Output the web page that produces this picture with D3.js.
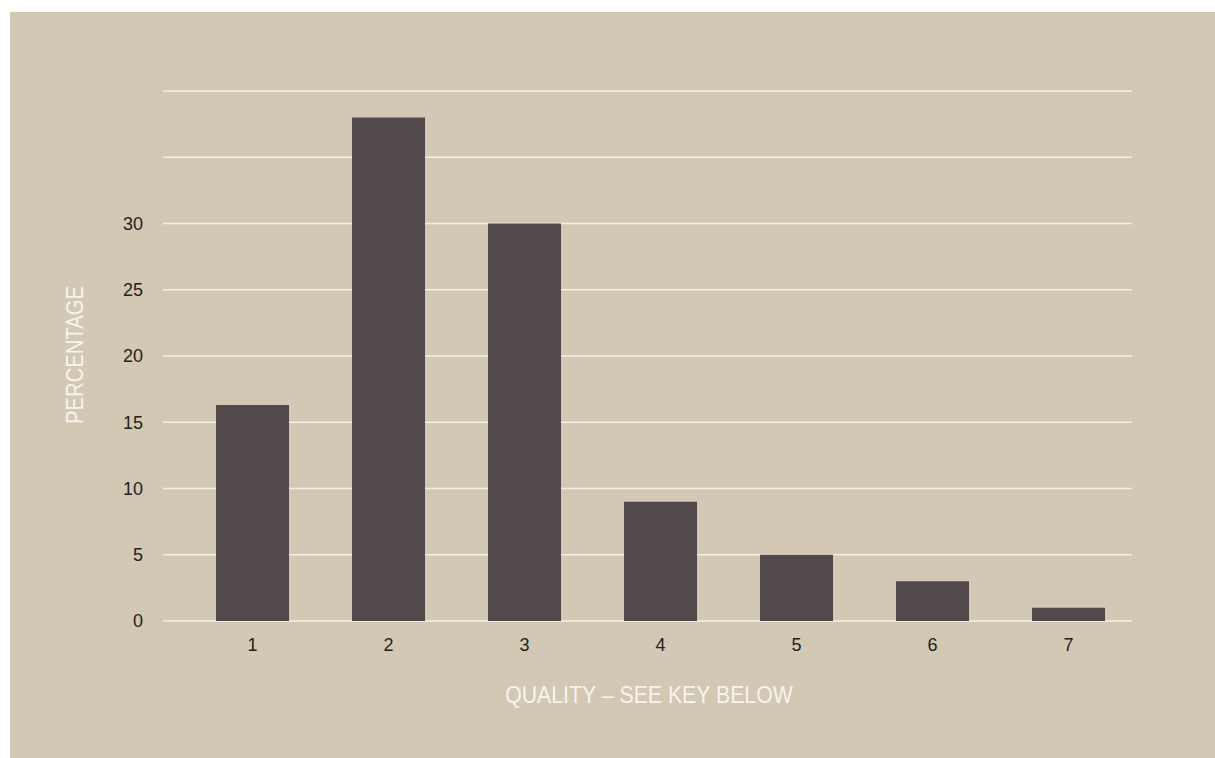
<!DOCTYPE html>
<html>
<head>
<meta charset="utf-8">
<script src="https://cdn.jsdelivr.net/npm/d3@7"></script>
<style>
  body { margin: 0; background: #ffffff; }
  svg { display: block; }
</style>
</head>
<body>
<svg id="chart" width="1215" height="758"></svg>
<script>
// data
const categories = ["1", "2", "3", "4", "5", "6", "7"];
const percentages = [16.3, 38, 30, 9, 5, 3, 1];
const grid_values = [0, 5, 10, 15, 20, 25, 30, 35, 40];
const tick_labels = [0, 5, 10, 15, 20, 25, 30];
const x_title = "QUALITY – SEE KEY BELOW";
const y_title = "PERCENTAGE";

const svg = d3.select("#chart");
const title_font = "'Liberation Sans', Arial, sans-serif";

svg.append("rect")
  .attr("x", 10).attr("y", 12)
  .attr("width", 1205).attr("height", 746)
  .attr("fill", "#d3c8b4");

const x = d3.scaleBand()
  .domain(categories)
  .range([184.5, 1136.5])
  .paddingInner(0.463)
  .paddingOuter(0.2315);

const y = d3.scaleLinear()
  .domain([0, 40])
  .range([621, 91]);

// grid lines
svg.append("g")
  .selectAll("line")
  .data(grid_values)
  .join("line")
  .attr("x1", 163).attr("x2", 1132)
  .attr("y1", (d) => y(d)).attr("y2", (d) => y(d))
  .attr("stroke", "#f4efe6")
  .attr("stroke-width", 1.5);

// bars
svg.append("g")
  .selectAll("rect")
  .data(percentages)
  .join("rect")
  .attr("x", (d, i) => x(categories[i]))
  .attr("width", x.bandwidth())
  .attr("y", (d) => y(d))
  .attr("height", (d) => y(0) - y(d))
  .attr("fill", "#524a4a");

// y axis
const y_axis = svg.append("g")
  .attr("transform", "translate(143, 0)")
  .call(d3.axisLeft(y).tickValues(tick_labels).tickSize(0).tickPadding(0));
y_axis.select(".domain").remove();
y_axis.selectAll(".tick text")
  .attr("fill", "#222")
  .attr("font-family", "'Liberation Sans', Arial, sans-serif")
  .attr("font-size", 18);

// x axis
const x_axis = svg.append("g")
  .attr("transform", "translate(0, 621)")
  .call(d3.axisBottom(x).tickSize(0).tickPadding(17));
x_axis.select(".domain").remove();
x_axis.selectAll(".tick text")
  .attr("fill", "#222")
  .attr("font-family", "'Liberation Sans', Arial, sans-serif")
  .attr("font-size", 18);

// titles, squeezed sideways to look like a condensed face
svg.append("text")
  .attr("transform", "translate(649, 703) scale(0.925, 1)")
  .attr("text-anchor", "middle")
  .attr("fill", "#f7f4ee")
  .attr("font-family", title_font)
  .attr("font-size", 23)
  .text(x_title);

svg.append("text")
  .attr("transform", "translate(83, 355) rotate(-90) scale(0.88, 1)")
  .attr("text-anchor", "middle")
  .attr("fill", "#f7f4ee")
  .attr("font-family", title_font)
  .attr("font-size", 23)
  .text(y_title);
</script>
</body>
</html>
